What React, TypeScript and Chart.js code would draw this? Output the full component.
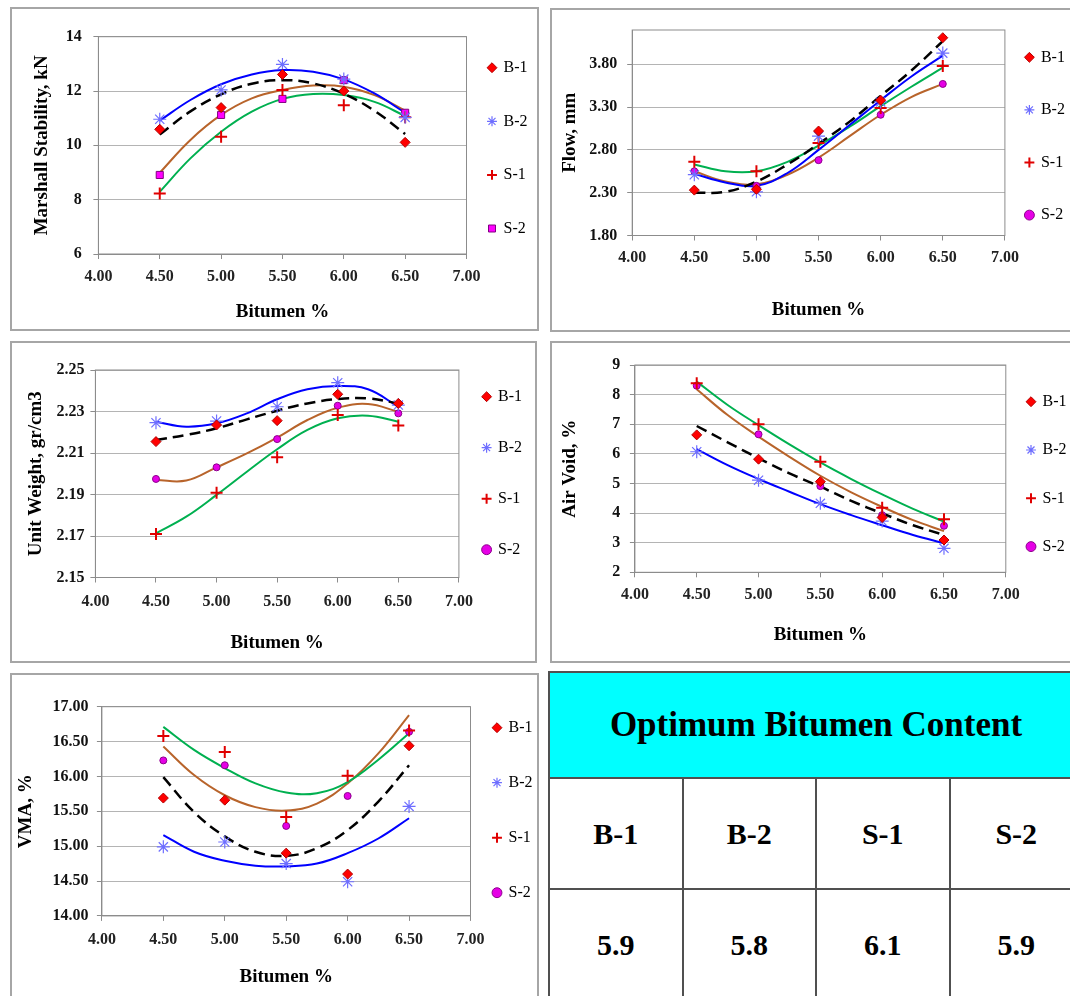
import React, { useEffect, useRef } from 'react';
import { Chart, registerables } from 'chart.js';

Chart.register(...registerables);

const FONT = "'Liberation Serif', 'Times New Roman', Times, serif";
Chart.defaults.font.family = FONT;

// ---------------- data ----------------
const seriesNames = ['B-1', 'B-2', 'S-1', 'S-2'];
const bitumen = [4.5, 5.0, 5.5, 6.0, 6.5];
const trendBitumen = [4.5, 4.75, 5.0, 5.25, 5.5, 5.75, 6.0, 6.25, 6.5];
const xTicks = [4.0, 4.5, 5.0, 5.5, 6.0, 6.5, 7.0];

// Marshall stability, kN
const stabilityTicks = [6, 8, 10, 12, 14];
const stabilityB1 = [10.59, 11.39, 12.61, 12.0, 10.11];
const stabilityB2 = [10.96, 12.04, 12.98, 12.44, 11.03];
const stabilityS1 = [8.23, 10.32, 12.04, 11.48, 11.03];
const stabilityS2 = [8.91, 11.12, 11.71, 12.4, 11.2];
const stabilityFitB1 = [10.4, 11.25, 11.88, 12.27, 12.4, 12.28, 11.9, 11.27, 10.42];
const stabilityFitB2 = [10.91, 11.67, 12.25, 12.61, 12.77, 12.71, 12.43, 11.91, 11.2];
const stabilityFitS1 = [8.29, 9.52, 10.5, 11.24, 11.71, 11.89, 11.85, 11.6, 11.08];
const stabilityFitS2 = [8.99, 10.2, 11.12, 11.73, 12.04, 12.2, 12.16, 11.85, 11.28];

// Flow, mm
const flowTicks = [1.8, 2.3, 2.8, 3.3, 3.8];
const flowB1 = [2.33, 2.34, 3.02, 3.38, 4.11];
const flowB2 = [2.51, 2.31, 2.96, 3.36, 3.93];
const flowS1 = [2.66, 2.55, 2.88, 3.29, 3.78];
const flowS2 = [2.55, 2.38, 2.68, 3.21, 3.57];
const flowFitB1 = [2.3, 2.31, 2.43, 2.63, 2.87, 3.13, 3.43, 3.73, 4.07];
const flowFitB2 = [2.52, 2.42, 2.38, 2.53, 2.8, 3.09, 3.38, 3.66, 3.9];
const flowFitS1 = [2.63, 2.55, 2.55, 2.66, 2.85, 3.07, 3.31, 3.54, 3.76];
const flowFitS2 = [2.55, 2.43, 2.4, 2.51, 2.71, 2.96, 3.21, 3.42, 3.57];

// Unit weight, gr/cm3
const unitWeightTicks = [2.15, 2.17, 2.19, 2.21, 2.23, 2.25];
const unitWeightB1 = [2.2155, 2.2235, 2.2256, 2.2383, 2.2339];
const unitWeightB2 = [2.2246, 2.2254, 2.2323, 2.2439, 2.2331];
const unitWeightS1 = [2.171, 2.1909, 2.2079, 2.2283, 2.2232];
const unitWeightS2 = [2.1975, 2.2031, 2.2167, 2.2328, 2.2291];
const unitWeightFitB1 = [2.2163, 2.2187, 2.2219, 2.2262, 2.2304, 2.2339, 2.236, 2.2363, 2.2339];
const unitWeightFitB2 = [2.2251, 2.2227, 2.2243, 2.2291, 2.2359, 2.2407, 2.2423, 2.2407, 2.2323];
const unitWeightFitS1 = [2.1713, 2.1793, 2.1898, 2.201, 2.2118, 2.2211, 2.2267, 2.228, 2.2251];
const unitWeightFitS2 = [2.197, 2.1967, 2.2031, 2.2098, 2.2174, 2.2259, 2.2318, 2.2336, 2.2299];

// Air void, %
const airVoidTicks = [2, 3, 4, 5, 6, 7, 8, 9];
const airVoidB1 = [6.64, 5.82, 5.06, 3.85, 3.09];
const airVoidB2 = [6.07, 5.11, 4.33, 3.73, 2.81];
const airVoidS1 = [8.38, 7.0, 5.73, 4.18, 3.79];
const airVoidS2 = [8.3, 6.66, 4.91, 3.93, 3.57];
const airVoidFitB1 = [6.94, 6.39, 5.85, 5.34, 4.89, 4.41, 3.99, 3.59, 3.26];
const airVoidFitB2 = [6.16, 5.62, 5.15, 4.72, 4.3, 3.93, 3.59, 3.26, 2.98];
const airVoidFitS1 = [8.44, 7.65, 6.97, 6.32, 5.71, 5.15, 4.63, 4.14, 3.71];
const airVoidFitS2 = [8.18, 7.31, 6.58, 5.9, 5.26, 4.7, 4.21, 3.76, 3.39];

// VMA, %
const vmaTicks = [14, 14.5, 15, 15.5, 16, 16.5, 17];
const vmaB1 = [15.69, 15.66, 14.9, 14.6, 16.44];
const vmaB2 = [14.99, 15.06, 14.75, 14.49, 15.57];
const vmaS1 = [16.58, 16.35, 15.42, 16.01, 16.66];
const vmaS2 = [16.23, 16.16, 15.29, 15.72, 16.64];
const vmaFitB1 = [15.99, 15.49, 15.14, 14.92, 14.86, 14.97, 15.23, 15.64, 16.16];
const vmaFitB2 = [15.16, 14.92, 14.79, 14.72, 14.71, 14.75, 14.9, 15.11, 15.4];
const vmaFitS1 = [16.71, 16.38, 16.12, 15.9, 15.77, 15.76, 15.92, 16.24, 16.62];
const vmaFitS2 = [16.43, 16.02, 15.73, 15.56, 15.51, 15.61, 15.9, 16.33, 16.88];

// Optimum bitumen content table
const optimumMixes = ['B-1', 'B-2', 'S-1', 'S-2'];
const optimumContent = [5.9, 5.8, 6.1, 5.9];

// ---------------- styles / layout ----------------
const trendColors = ['#000000', '#0000ff', '#00b050', '#b8642b'];
const trendWidths = [2.5, 2, 2, 2];

function markerStyle(i: number, s2Style: string) {
  if (i === 0)
    return { pointStyle: 'rectRot', pointRadius: 5, pointBackgroundColor: '#ff0000', pointBorderColor: '#b30000', pointBorderWidth: 1 };
  if (i === 1)
    return { pointStyle: 'star', pointRadius: 6.5, pointBackgroundColor: '#6e6eff', pointBorderColor: '#6e6eff', pointBorderWidth: 1.2 };
  if (i === 2)
    return { pointStyle: 'cross', pointRadius: 6, pointBackgroundColor: '#e00000', pointBorderColor: '#e00000', pointBorderWidth: 2 };
  return s2Style === 'rect'
    ? { pointStyle: 'rect', pointRadius: 5, pointBackgroundColor: '#ff00ff', pointBorderColor: '#800080', pointBorderWidth: 1 }
    : { pointStyle: 'circle', pointRadius: 3.5, pointBackgroundColor: '#e600e6', pointBorderColor: '#8b008b', pointBorderWidth: 1 };
}

const panels = [
  {
    id: 'stability', yTitle: 'Marshall Stability, kN', yMin: 6, yMax: 14, yTicks: stabilityTicks, yDecimals: 0,
    points: [stabilityB1, stabilityB2, stabilityS1, stabilityS2],
    trends: [stabilityFitB1, stabilityFitB2, stabilityFitS1, stabilityFitS2], s2Style: 'rect',
    box: { left: 10, top: 7, right: 539, bottom: 331 },
    plot: { left: 98.4, top: 36.7, right: 466.5, bottom: 254 },
    yTickGap: 16.7, xTickY: 276.7, yTitleX: 41.7, xTitleY: 311.7,
    legend: { x: 492, y: 67.7, step: 53.6 },
  },
  {
    id: 'flow', yTitle: 'Flow, mm', yMin: 1.8, yMax: 4.2, yTicks: flowTicks, yDecimals: 2,
    points: [flowB1, flowB2, flowS1, flowS2],
    trends: [flowFitB1, flowFitB2, flowFitS1, flowFitS2], s2Style: 'circle',
    box: { left: 550, top: 8, right: 1072, bottom: 332 },
    plot: { left: 632.2, top: 30, right: 1004.9, bottom: 235.5 },
    yTickGap: 15, xTickY: 258.3, yTitleX: 570, xTitleY: 310,
    legend: { x: 1029.4, y: 57.3, step: 52.6 },
  },
  {
    id: 'unitWeight', yTitle: 'Unit Weight, gr/cm3', yMin: 2.15, yMax: 2.25, yTicks: unitWeightTicks, yDecimals: 2,
    points: [unitWeightB1, unitWeightB2, unitWeightS1, unitWeightS2],
    trends: [unitWeightFitB1, unitWeightFitB2, unitWeightFitS1, unitWeightFitS2], s2Style: 'circle',
    box: { left: 10, top: 341, right: 537, bottom: 663 },
    plot: { left: 95.4, top: 370, right: 458.9, bottom: 577.5 },
    yTickGap: 11, xTickY: 601.7, yTitleX: 36.5, xTitleY: 643,
    legend: { x: 486.6, y: 396.7, step: 51 },
  },
  {
    id: 'airVoid', yTitle: 'Air Void, %', yMin: 2, yMax: 9, yTicks: airVoidTicks, yDecimals: 0,
    points: [airVoidB1, airVoidB2, airVoidS1, airVoidS2],
    trends: [airVoidFitB1, airVoidFitB2, airVoidFitS1, airVoidFitS2], s2Style: 'circle',
    box: { left: 550, top: 341, right: 1072, bottom: 663 },
    plot: { left: 634.9, top: 365, right: 1005.8, bottom: 572.3 },
    yTickGap: 14.6, xTickY: 595, yTitleX: 570, xTitleY: 635,
    legend: { x: 1031, y: 401.7, step: 48.3 },
  },
  {
    id: 'vma', yTitle: 'VMA, %', yMin: 14, yMax: 17, yTicks: vmaTicks, yDecimals: 2,
    points: [vmaB1, vmaB2, vmaS1, vmaS2],
    trends: [vmaFitB1, vmaFitB2, vmaFitS1, vmaFitS2], s2Style: 'circle',
    box: { left: 10, top: 673, right: 539, bottom: 998 },
    plot: { left: 101.9, top: 706.7, right: 470.5, bottom: 915.9 },
    yTickGap: 13.3, xTickY: 940, yTitleX: 26, xTitleY: 976.7,
    legend: { x: 497, y: 727.7, step: 55 },
  },
];

const BORDER = 2;
const TITLE_SIZE = 19;
const TICK_SIZE = 16;
const TICK_LEN = 5;
const LEGEND_FONT = 16;
const LEGEND_BOX = 7;

const plotBorder = {
  id: 'plotBorder',
  beforeDatasetsDraw(chart: any) {
    const { ctx, chartArea } = chart;
    ctx.save();
    ctx.strokeStyle = '#8c8c8c';
    ctx.lineWidth = 1;
    ctx.strokeRect(chartArea.left, chartArea.top, chartArea.right - chartArea.left, chartArea.bottom - chartArea.top);
    ctx.restore();
  },
};

function geometry(p: any) {
  const ox = p.box.left + BORDER;
  const oy = p.box.top + BORDER;
  const W = p.box.right - p.box.left - 2 * BORDER;
  const H = p.box.bottom - p.box.top - 2 * BORDER;
  return { ox, oy, W, H };
}

function buildConfig(p: any) {
  const { ox, oy, W, H } = geometry(p);
  const caLeft = p.plot.left - ox;
  const caTop = p.plot.top - oy;
  const caRight = p.plot.right - ox;
  const caBottom = p.plot.bottom - oy;
  const titleLH = TITLE_SIZE * 1.2;
  const tickLH = TICK_SIZE * 1.2;
  const legPad = p.legend.x - p.plot.right - LEGEND_BOX / 2;
  const legTitleH = p.legend.y - p.plot.top - LEGEND_FONT / 2 - legPad;
  const legLH = p.legend.step - legPad;
  const legWidth = legPad + 40;
  const padRight = W - caRight - legWidth;

  const datasets: any[] = [
    ...p.points.map((vals: number[], i: number) => ({
      type: 'scatter',
      label: seriesNames[i],
      data: bitumen.map((x, j) => ({ x, y: vals[j] })),
      showLine: false,
      order: 0,
      ...markerStyle(i, p.s2Style),
    })),
    ...p.trends.map((vals: number[], i: number) => ({
      type: 'scatter',
      label: seriesNames[i] + ' trend',
      data: trendBitumen.map((x, j) => ({ x, y: vals[j] })),
      showLine: true,
      pointRadius: 0,
      borderColor: trendColors[i],
      backgroundColor: trendColors[i],
      borderWidth: trendWidths[i],
      borderDash: i === 0 ? [11, 6] : [],
      tension: 0.4,
      fill: false,
      order: 1,
    })),
  ];

  return {
    type: 'scatter',
    data: { datasets },
    plugins: [plotBorder],
    options: {
      animation: false,
      responsive: false,
      devicePixelRatio: 1,
      events: [],
      layout: { padding: { left: 0, top: caTop, right: padRight, bottom: 0 } },
      plugins: {
        tooltip: { enabled: false },
        legend: {
          display: true,
          position: 'right',
          align: 'start',
          fullSize: true,
          maxWidth: legWidth,
          title: {
            display: true,
            text: '',
            padding: { top: legTitleH, bottom: 0 },
            font: { size: 1, lineHeight: '0px' },
          },
          labels: {
            usePointStyle: true,
            boxWidth: LEGEND_BOX,
            boxHeight: LEGEND_BOX,
            padding: legPad,
            color: '#000',
            font: { family: FONT, size: LEGEND_FONT, lineHeight: legLH + 'px' },
            generateLabels: (chart: any) =>
              (Chart.defaults.plugins.legend.labels as any)
                .generateLabels(chart)
                .filter((it: any) => it.datasetIndex < 4)
                .map((it: any) => ({ ...it, text: [it.text] })),
          },
        },
      },
      scales: {
        x: {
          type: 'linear',
          position: 'bottom',
          min: 4,
          max: 7,
          afterBuildTicks: (axis: any) => {
            axis.ticks = xTicks.map((v) => ({ value: v }));
          },
          afterFit: (axis: any) => {
            axis.height = H - caBottom;
          },
          ticks: {
            autoSkip: false,
            maxRotation: 0,
            padding: p.xTickY - p.plot.bottom - TICK_LEN - tickLH / 2,
            color: '#222',
            font: { family: FONT, size: TICK_SIZE, weight: 'bold' },
            callback: (v: any) => Number(v).toFixed(2),
          },
          grid: { drawOnChartArea: false, drawTicks: true, tickLength: TICK_LEN, color: '#8c8c8c', tickColor: '#8c8c8c' },
          border: { display: true, color: '#8c8c8c', width: 1 },
          title: {
            display: true,
            text: 'Bitumen %',
            color: '#000',
            font: { family: FONT, size: TITLE_SIZE, weight: 'bold' },
            padding: { top: 0, bottom: H - (p.xTitleY - oy) - titleLH / 2 },
          },
        },
        y: {
          type: 'linear',
          position: 'left',
          min: p.yMin,
          max: p.yMax,
          afterBuildTicks: (axis: any) => {
            axis.ticks = p.yTicks.map((v: number) => ({ value: v }));
          },
          afterFit: (axis: any) => {
            axis.width = caLeft;
          },
          ticks: {
            autoSkip: false,
            padding: p.yTickGap - TICK_LEN,
            color: '#111',
            font: { family: FONT, size: TICK_SIZE, weight: 'bold' },
            callback: (v: any) => Number(v).toFixed(p.yDecimals),
          },
          grid: { color: '#b4b4b4', lineWidth: 1, drawTicks: true, tickLength: TICK_LEN, tickColor: '#8c8c8c' },
          border: { display: true, color: '#8c8c8c', width: 1 },
          title: {
            display: true,
            text: p.yTitle,
            color: '#000',
            font: { family: FONT, size: TITLE_SIZE, weight: 'bold' },
            padding: { top: p.yTitleX - ox - titleLH / 2, bottom: 0 },
          },
        },
      },
    },
  };
}

function PanelChart({ spec }: { spec: any }) {
  const ref = useRef<HTMLCanvasElement>(null);
  const { W, H } = geometry(spec);
  useEffect(() => {
    const chart = new Chart(ref.current as HTMLCanvasElement, buildConfig(spec) as any);
    return () => chart.destroy();
  }, [spec]);
  return (
    <div
      style={{
        position: 'absolute',
        left: spec.box.left,
        top: spec.box.top,
        width: W,
        height: H,
        border: `${BORDER}px solid #a6a6a6`,
        background: '#fff',
      }}
    >
      <canvas ref={ref} width={W} height={H} style={{ display: 'block', width: W, height: H }} />
    </div>
  );
}

const cellStyle: React.CSSProperties = {
  border: '2px solid #505050',
  textAlign: 'center',
  verticalAlign: 'middle',
  fontSize: 30,
  padding: 0,
  background: '#fff',
};

export default function App() {
  return (
    <div
      style={{
        position: 'absolute',
        left: 0,
        top: 0,
        width: 1070,
        height: 996,
        overflow: 'hidden',
        background: '#fff',
        fontFamily: FONT,
      }}
    >
      {panels.map((p) => (
        <PanelChart key={p.id} spec={p} />
      ))}
      <table
        style={{
          position: 'absolute',
          left: 548,
          top: 671,
          width: 536,
          borderCollapse: 'collapse',
          tableLayout: 'fixed',
          fontFamily: FONT,
          fontWeight: 'bold',
          color: '#000',
        }}
      >
        <tbody>
          <tr style={{ height: 106 }}>
            <td colSpan={4} style={{ ...cellStyle, background: '#00ffff', fontSize: 35 }}>
              Optimum Bitumen Content
            </td>
          </tr>
          <tr style={{ height: 111 }}>
            {optimumMixes.map((m) => (
              <td key={m} style={cellStyle}>
                {m}
              </td>
            ))}
          </tr>
          <tr style={{ height: 111 }}>
            {optimumContent.map((v, i) => (
              <td key={i} style={cellStyle}>
                {v.toFixed(1)}
              </td>
            ))}
          </tr>
        </tbody>
      </table>
    </div>
  );
}
